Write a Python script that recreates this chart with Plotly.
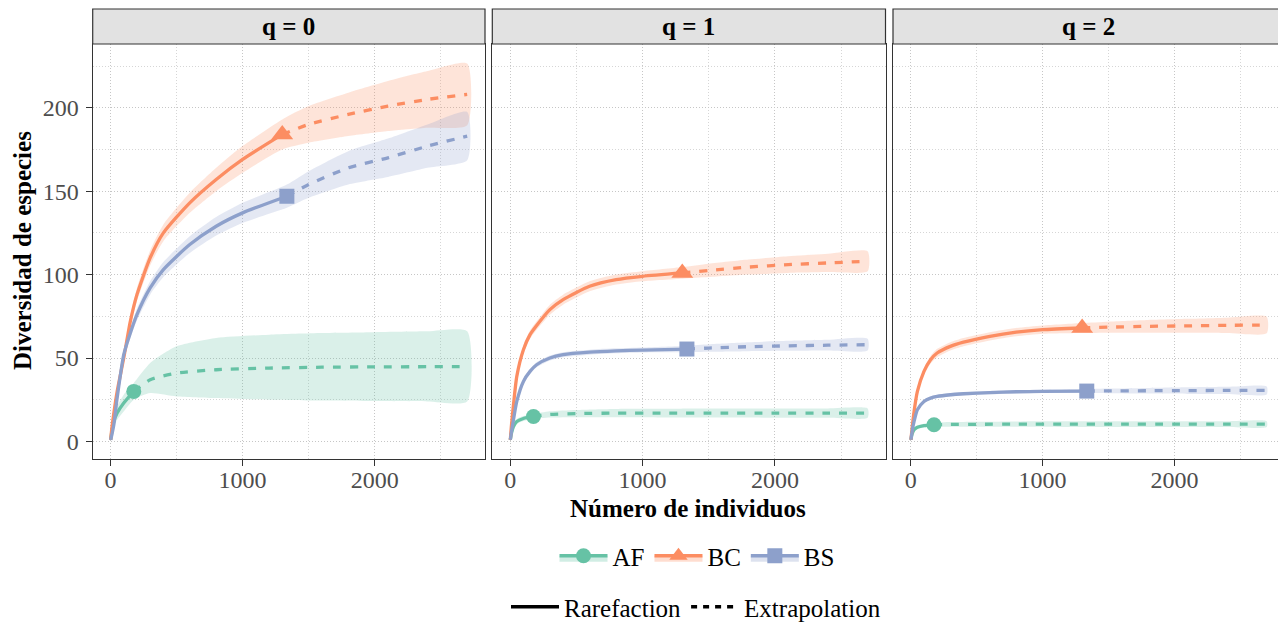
import plotly.graph_objects as go

# ---------------- data ----------------
SITES = ["AF", "BC", "BS"]
ORDERS = ["q = 0", "q = 1", "q = 2"]
COLORS = {"AF": "#66c2a5", "BC": "#fc8d62", "BS": "#8da0cb"}
SYMBOLS = {"AF": "circle", "BC": "triangle-up", "BS": "square"}
MSIZE = {"AF": 15, "BC": 19, "BS": 15}

# sample-size grids (observed sample size included once)
AF_x = [1, 10, 25, 50, 100, 176, 300, 500, 800, 1200, 1600, 2000, 2400, 2700]
AF_n = 176
BC_x = [1, 10, 25, 50, 100, 150, 200, 300, 400, 600, 800, 1000, 1300, 1500, 1800, 2100, 2400, 2700]
BC_n = 1300
BS_x = [1, 10, 25, 50, 100, 150, 200, 300, 400, 600, 800, 1000, 1335, 1500, 1800, 2100, 2400, 2700]
BS_n = 1335

# q = 0
AF_q0_y = [1, 6, 12, 17, 23, 30, 37, 41, 43, 44, 44.5, 44.7, 44.8, 44.8]
AF_q0_lo = [0.5, 4, 9, 13, 18, 25, 29, 27, 26, 25, 24.5, 24.2, 24, 24]
AF_q0_hi = [1.5, 8, 15, 21, 28, 35, 47, 57, 62, 64, 65, 65.5, 66, 66]
BC_q0_y = [1, 8, 17, 30, 50, 72, 88, 110, 125, 143, 157, 169, 184, 190, 196, 201, 205, 208]
BC_q0_lo = [1, 7, 15, 27, 46.5, 68.5, 84, 105.5, 120, 137, 150, 161, 175, 179, 183, 186, 188, 189.5]
BC_q0_hi = [1, 9, 19, 33, 53.5, 75.5, 92, 114.5, 130, 149, 164, 177, 193, 201, 209, 216, 222, 226.5]
BS_q0_y = [1, 4, 10, 26, 52, 65, 76, 92, 103, 118, 129, 137, 147, 154, 164, 170, 177, 183]
BS_q0_lo = [1, 3.5, 8.5, 23.5, 49, 62, 72.5, 88, 98.5, 113, 123.5, 131, 140, 146, 154, 158.5, 164, 168.5]
BS_q0_hi = [1, 4.5, 11.5, 28.5, 55, 68, 79.5, 96, 107.5, 123, 134.5, 143, 154, 162, 174, 181.5, 190, 197.5]

# q = 1
AF_q1_y = [1, 5, 9, 12, 13.8, 15, 16.2, 16.7, 17, 17, 17, 17, 17, 17]
AF_q1_lo = [0.5, 4, 7.5, 10.5, 12.3, 13.5, 14.3, 14.5, 14.5, 14.4, 14.3, 14.2, 14.2, 14.2]
AF_q1_hi = [1.5, 6, 10.5, 13.5, 15.3, 16.5, 18.1, 18.9, 19.5, 19.6, 19.7, 19.8, 19.8, 19.8]
BC_q1_y = [1, 10, 22, 39, 55, 64, 69.5, 79, 85, 93, 97, 99, 101, 102.5, 104.5, 106, 107, 108]
BC_q1_lo = [1, 9.5, 20.5, 37, 52.5, 61.5, 67, 76, 82, 90, 94, 96, 97.5, 98.5, 100, 101, 101.5, 102]
BC_q1_hi = [1, 10.5, 23.5, 41, 57.5, 66.5, 72, 82, 88, 96, 100, 102, 104.5, 106.5, 109, 111, 112.5, 114]
BS_q1_y = [1, 6, 13, 24, 36, 42, 46, 50, 52, 53.5, 54.3, 54.8, 55.4, 56, 56.8, 57.3, 57.7, 58]
BS_q1_lo = [1, 5.5, 12, 22.5, 34.5, 40.5, 44.5, 48.5, 50.5, 52, 52.8, 53.3, 53.4, 53.7, 54.1, 54.3, 54.5, 54.5]
BS_q1_hi = [1, 6.5, 14, 25.5, 37.5, 43.5, 47.5, 51.5, 53.5, 55, 55.8, 56.3, 57.4, 58.3, 59.5, 60.3, 60.9, 61.5]

# q = 2
AF_q2_y = [1, 4.5, 7, 8.5, 9.5, 10, 10.2, 10.3, 10.4, 10.4, 10.4, 10.4, 10.4, 10.4]
AF_q2_lo = [1, 4, 6.2, 7.5, 8.4, 8.8, 8.8, 8.8, 8.8, 8.7, 8.7, 8.7, 8.7, 8.7]
AF_q2_hi = [1, 5, 7.8, 9.5, 10.6, 11.2, 11.6, 11.8, 12, 12.1, 12.1, 12.1, 12.1, 12.1]
BC_q2_y = [1, 8, 18, 30, 42, 49, 53, 57, 59.5, 63, 65.5, 67, 68, 68.5, 69, 69.3, 69.6, 69.8]
BC_q2_lo = [1, 7.5, 17, 28.5, 40, 46.7, 50.5, 54.5, 57, 60.5, 63, 64.5, 65, 65.2, 65.2, 65.1, 65, 64.8]
BC_q2_hi = [1, 8.5, 19, 31.5, 44, 51.3, 55.5, 59.5, 62, 65.5, 68, 69.5, 71, 71.8, 72.8, 73.5, 74.2, 74.8]
BS_q2_y = [1, 6, 12, 19, 24, 26, 27, 28, 28.6, 29.3, 29.8, 30, 30.2, 30.3, 30.4, 30.5, 30.6, 30.6]
BS_q2_lo = [1, 5.6, 11.2, 18, 23, 25, 26, 27, 27.6, 28.3, 28.8, 29, 29, 28.9, 28.7, 28.5, 28.4, 28.2]
BS_q2_hi = [1, 6.4, 12.8, 20, 25, 27, 28, 29, 29.6, 30.3, 30.8, 31, 31.4, 31.7, 32.1, 32.5, 32.8, 33]

X_TICKS = [0, 1000, 2000]
Y_TICKS = [0, 50, 100, 150, 200]

# ---------------- assemble ----------------
GRIDS = {"AF": (AF_x, AF_n), "BC": (BC_x, BC_n), "BS": (BS_x, BS_n)}
SERIES = {
    0: {"AF": (AF_q0_y, AF_q0_lo, AF_q0_hi), "BC": (BC_q0_y, BC_q0_lo, BC_q0_hi), "BS": (BS_q0_y, BS_q0_lo, BS_q0_hi)},
    1: {"AF": (AF_q1_y, AF_q1_lo, AF_q1_hi), "BC": (BC_q1_y, BC_q1_lo, BC_q1_hi), "BS": (BS_q1_y, BS_q1_lo, BS_q1_hi)},
    2: {"AF": (AF_q2_y, AF_q2_lo, AF_q2_hi), "BC": (BC_q2_y, BC_q2_lo, BC_q2_hi), "BS": (BS_q2_y, BS_q2_lo, BS_q2_hi)},
}

FONT = "Liberation Serif"
OFF = 8            # page body margin of the browser
W, H = 1278, 622   # figure size so that it fits the 1286x630 window


def rgba(hexc, a):
    h = hexc.lstrip("#")
    return "rgba(%d,%d,%d,%s)" % (int(h[0:2], 16), int(h[2:4], 16), int(h[4:6], 16), a)


def px_x(p):
    return (p - OFF) / W


def px_y(p):
    return (H - (p - OFF)) / H


PANELS = [(92.7, 485.0), (492.3, 885.5), (893.0, 1284.5)]
PANEL_TOP, PANEL_BOT = 44.0, 459.0
STRIP_TOP = 9.0

fig = go.Figure()

for k in range(3):
    xa = "x" if k == 0 else "x%d" % (k + 1)
    ya = "y" if k == 0 else "y%d" % (k + 1)
    # confidence bands
    for s in SITES:
        xs, n = GRIDS[s]
        y, lo, hi = SERIES[k][s]
        fig.add_trace(go.Scatter(
            x=list(xs) + list(xs)[::-1], y=list(hi) + list(lo)[::-1],
            fill="toself", fillcolor=rgba(COLORS[s], 0.24),
            line=dict(width=0, shape="spline", smoothing=0.6),
            mode="lines", showlegend=False, hoverinfo="skip", xaxis=xa, yaxis=ya))
    # rarefaction / extrapolation lines
    for s in SITES:
        xs, n = GRIDS[s]
        y, lo, hi = SERIES[k][s]
        i = xs.index(n)
        fig.add_trace(go.Scatter(x=xs[:i + 1], y=y[:i + 1], mode="lines",
                                 line=dict(color=COLORS[s], width=3.3, shape="spline", smoothing=0.6),
                                 showlegend=False, xaxis=xa, yaxis=ya))
        fig.add_trace(go.Scatter(x=xs[i:], y=y[i:], mode="lines",
                                 line=dict(color=COLORS[s], width=3.3, dash="8px,9px",
                                           shape="spline", smoothing=0.6),
                                 showlegend=False, xaxis=xa, yaxis=ya))
    # observed points
    for s in SITES:
        xs, n = GRIDS[s]
        y, lo, hi = SERIES[k][s]
        i = xs.index(n)
        fig.add_trace(go.Scatter(x=[xs[i]], y=[y[i]], mode="markers",
                                 marker=dict(color=COLORS[s], symbol=SYMBOLS[s], size=MSIZE[s],
                                             line=dict(width=0)),
                                 showlegend=False, xaxis=xa, yaxis=ya))

# legend 1: sites
for s in SITES:
    fig.add_trace(go.Scatter(x=[None], y=[None], mode="lines+markers", name=s,
                             line=dict(color=COLORS[s], width=3.3),
                             marker=dict(color=COLORS[s], symbol=SYMBOLS[s], size=MSIZE[s]),
                             fill="toself", fillcolor=rgba(COLORS[s], 0.3),
                             legend="legend"))
# legend 2: method
for name, dash in [("Rarefaction", "solid"), ("Extrapolation", "6px,6px")]:
    fig.add_trace(go.Scatter(x=[None], y=[None], mode="lines", name=name,
                             line=dict(color="black", width=3.5, dash=dash),
                             legend="legend2"))

axis_common = dict(
    showline=True, mirror=True, linecolor="#333333", linewidth=1.2,
    showgrid=True, gridcolor="#c6c6c6", griddash="1px,2px", gridwidth=1,
    zeroline=False,
    tickfont=dict(family=FONT, size=24, color="#4d4d4d"),
    ticks="outside", ticklen=6, tickcolor="#333333", tickwidth=1,
)

layout = dict(
    width=W, height=H, margin=dict(l=0, r=0, t=0, b=0),
    paper_bgcolor="white", plot_bgcolor="white",
    font=dict(family=FONT, size=24, color="black"),
    showlegend=True,
    legend=dict(orientation="h", x=px_x(697), xanchor="center", y=px_y(533), yanchor="top",
                font=dict(family=FONT, size=25, color="black"), itemwidth=48,
                bgcolor="rgba(0,0,0,0)", traceorder="normal"),
    legend2=dict(orientation="h", x=px_x(696), xanchor="center", y=0, yanchor="bottom",
                 font=dict(family=FONT, size=25, color="black"), itemwidth=48,
                 bgcolor="rgba(0,0,0,0)"),
)
for k in range(3):
    xa = "xaxis" if k == 0 else "xaxis%d" % (k + 1)
    ya = "yaxis" if k == 0 else "yaxis%d" % (k + 1)
    x0, x1 = PANELS[k]
    layout[xa] = dict(axis_common, domain=[px_x(x0), px_x(x1)], range=[-135, 2835],
                      tickvals=X_TICKS, ticktext=[str(v) for v in X_TICKS],
                      anchor="y" if k == 0 else "y%d" % (k + 1),
                      ticklabelstandoff=-7,
                      minor=dict(dtick=500, tick0=0, showgrid=True, gridcolor="#d6d6d6",
                                 griddash="1px,2px", ticklen=0))
    yd = dict(axis_common, domain=[px_y(PANEL_BOT), px_y(PANEL_TOP)], range=[-10.5, 238.2],
              tickvals=Y_TICKS, ticktext=[str(v) for v in Y_TICKS],
              anchor="x" if k == 0 else "x%d" % (k + 1),
              minor=dict(dtick=25, tick0=0, showgrid=True, gridcolor="#d6d6d6",
                         griddash="1px,2px", ticklen=0))
    if k > 0:
        yd.update(showticklabels=False, ticks="", matches="y")
    else:
        yd.update(ticklabelstandoff=2)
    layout[ya] = yd

fig.update_layout(**layout)

# facet strips
for k in range(3):
    x0, x1 = PANELS[k]
    fig.add_shape(type="rect", xref="paper", yref="paper",
                  x0=px_x(x0), x1=px_x(x1), y0=px_y(PANEL_TOP), y1=px_y(STRIP_TOP),
                  fillcolor="#e2e2e2", line=dict(color="#333333", width=1.2), layer="above")
    fig.add_annotation(xref="paper", yref="paper", x=px_x((x0 + x1) / 2),
                       y=px_y((PANEL_TOP + STRIP_TOP) / 2), text=ORDERS[k], showarrow=False,
                       font=dict(family=FONT, size=25, color="black", weight="bold"),
                       xanchor="center", yanchor="middle")

# axis titles
fig.add_annotation(xref="paper", yref="paper", x=px_x(688), y=px_y(508),
                   text="Número de individuos", showarrow=False,
                   font=dict(family=FONT, size=25, color="black", weight="bold"),
                   xanchor="center", yanchor="middle")
fig.add_annotation(xref="paper", yref="paper", x=px_x(22), y=px_y(251),
                   text="Diversidad de especies", showarrow=False, textangle=-90,
                   font=dict(family=FONT, size=25, color="black", weight="bold"),
                   xanchor="center", yanchor="middle")

fig.write_html("out.html")
